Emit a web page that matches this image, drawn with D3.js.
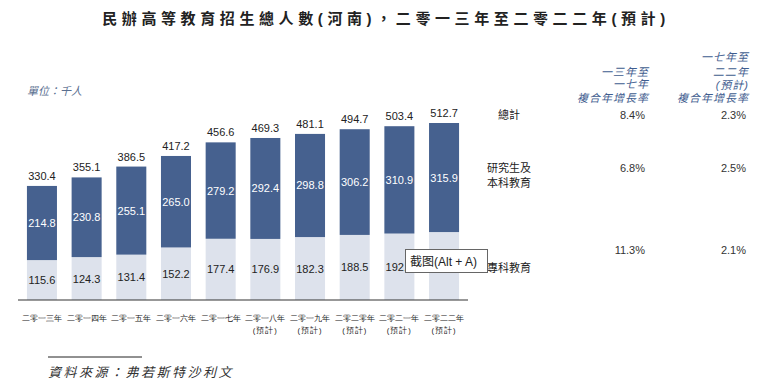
<!DOCTYPE html>
<html>
<head>
<meta charset="utf-8">
<script src="https://cdn.jsdelivr.net/npm/d3@7"></script>
<style>
  body { margin: 0; background: #fff; }
  svg { display: block; font-family: "Liberation Sans", Arial, "Noto Sans CJK TC", sans-serif; }
</style>
</head>
<body>
<svg id="chart" width="766" height="388"></svg>
<script>
// -- Data -- //
const years = ["二零一三年", "二零一四年", "二零一五年", "二零一六年", "二零一七年",
  "二零一八年", "二零一九年", "二零二零年", "二零二一年", "二零二二年"];
const forecast = [false, false, false, false, false, true, true, true, true, true];
const juniorCollege = [115.6, 124.3, 131.4, 152.2, 177.4, 176.9, 182.3, 188.5, 192.5, 196.8];
const undergrad = [214.8, 230.8, 255.1, 265.0, 279.2, 292.4, 298.8, 306.2, 310.9, 315.9];
const totals = [330.4, 355.1, 386.5, 417.2, 456.6, 469.3, 481.1, 494.7, 503.4, 512.7];
const cagrLabels = [["總計"], ["研究生及", "本科教育"], ["專科教育"]];
const cagr1317 = ["8.4%", "6.8%", "11.3%"];
const cagr1722 = ["2.3%", "2.5%", "2.1%"];

// -- Styles -- //
const dark = "#46618f";
const light = "#dde2ec";
const headBlue = "#3f5d8f";

const svg = d3.select("#chart");

// Title
svg.append("text")
  .attr("x", 386).attr("y", 24)
  .attr("text-anchor", "middle")
  .attr("font-size", 15).attr("font-weight", "bold")
  .attr("letter-spacing", 4.6)
  .attr("fill", "#222")
  .text("民辦高等教育招生總人數(河南)，二零一三年至二零二二年(預計)");

// Unit
svg.append("text")
  .attr("x", 27).attr("y", 95)
  .attr("font-size", 11).attr("font-style", "italic")
  .attr("fill", "#5a6f90")
  .text("單位：千人");

// Scales
const x = d3.scaleBand()
  .domain(years)
  .range([18, 468])
  .paddingInner(0.328)
  .paddingOuter(0.2);
const y = d3.scaleLinear()
  .domain([0, 512.7])
  .range([300, 123]);

const g = svg.append("g");
const rows = years.map((yr, i) => ({yr, jc: juniorCollege[i], ug: undergrad[i], tot: totals[i], fc: forecast[i]}));

// Bars: 專科 (bottom) and 研究生及本科 (top)
g.selectAll("rect.jc").data(rows).join("rect")
  .attr("class", "jc")
  .attr("x", d => x(d.yr)).attr("width", x.bandwidth())
  .attr("y", d => y(d.jc)).attr("height", d => y(0) - y(d.jc))
  .attr("fill", light);
g.selectAll("rect.ug").data(rows).join("rect")
  .attr("class", "ug")
  .attr("x", d => x(d.yr)).attr("width", x.bandwidth())
  .attr("y", d => y(d.jc + d.ug)).attr("height", d => y(d.jc) - y(d.jc + d.ug))
  .attr("fill", dark);

// Bar labels
const cx = d => x(d.yr) + x.bandwidth() / 2;
g.selectAll("text.jc").data(rows).join("text")
  .attr("class", "jc")
  .attr("x", cx).attr("y", d => (y(0) + y(d.jc)) / 2 + 4)
  .attr("text-anchor", "middle").attr("font-size", 11).attr("fill", "#222")
  .text(d => d.jc.toFixed(1));
g.selectAll("text.ug").data(rows).join("text")
  .attr("class", "ug")
  .attr("x", cx).attr("y", d => (y(d.jc) + y(d.jc + d.ug)) / 2 + 4)
  .attr("text-anchor", "middle").attr("font-size", 11).attr("fill", "#fff")
  .text(d => d.ug.toFixed(1));
g.selectAll("text.tot").data(rows).join("text")
  .attr("class", "tot")
  .attr("x", cx).attr("y", d => y(d.tot) - 6)
  .attr("text-anchor", "middle").attr("font-size", 11).attr("fill", "#222")
  .text(d => d.tot.toFixed(1));

// X axis
const xAxis = d3.axisBottom(x).tickSize(0).tickPadding(0).tickFormat(() => "");
const ax = svg.append("g").attr("transform", "translate(0,300)").call(xAxis);
ax.select(".domain").attr("stroke", "#333").attr("stroke-width", 1.2).attr("d", "M18,0H468");
ax.selectAll(".tick text").remove();
ax.selectAll(".tick").each(function(d, i) {
  const t = d3.select(this).append("text")
    .attr("text-anchor", "middle").attr("fill", "#222")
    .attr("font-size", 7.6);
  t.append("tspan").attr("x", 0).attr("y", 21).text(d);
  if (forecast[i]) t.append("tspan").attr("x", 0).attr("y", 33)
    .attr("letter-spacing", 1).text("(預計)");
});

// CAGR table
const head = svg.append("g").attr("font-size", 11).attr("font-style", "italic")
  .attr("letter-spacing", 1).attr("fill", headBlue).attr("text-anchor", "end");
[["一三年至", 76], ["一七年", 88], ["複合年增長率", 102]].forEach(([s, yy]) =>
  head.append("text").attr("x", 649).attr("y", yy).text(s));
[["一七年至", 61], ["二二年", 76], ["(預計)", 89], ["複合年增長率", 102]].forEach(([s, yy]) =>
  head.append("text").attr("x", 749).attr("y", yy).text(s));

const rowY = [119, 172, 254];
const labelY = [119, 172, 272];
cagrLabels.forEach((lines, i) => {
  const t = svg.append("text").attr("text-anchor", "middle")
    .attr("font-size", 11).attr("fill", "#222");
  lines.forEach((s, j) => t.append("tspan").attr("x", 509).attr("y", labelY[i] + j * 15).text(s));
  svg.append("text").attr("x", 645).attr("y", rowY[i]).attr("text-anchor", "end")
    .attr("font-size", 11).attr("fill", "#333").text(cagr1317[i]);
  svg.append("text").attr("x", 746).attr("y", rowY[i]).attr("text-anchor", "end")
    .attr("font-size", 11).attr("fill", "#333").text(cagr1722[i]);
});

// Screenshot tooltip seen in the reference
svg.append("rect").attr("x", 405.5).attr("y", 249.5).attr("width", 82).attr("height", 23)
  .attr("fill", "#fff").attr("stroke", "#666").attr("stroke-width", 1);
svg.append("text").attr("x", 410).attr("y", 266)
  .attr("font-size", 12).attr("fill", "#222").text("截图(Alt + A)");

// Source
svg.append("line").attr("x1", 48).attr("x2", 142).attr("y1", 357).attr("y2", 357)
  .attr("stroke", "#222").attr("stroke-width", 1);
svg.append("text").attr("x", 48).attr("y", 377)
  .attr("font-size", 13).attr("font-style", "italic").attr("letter-spacing", 2.5)
  .attr("fill", "#333").text("資料來源：弗若斯特沙利文");
</script>
</body>
</html>
